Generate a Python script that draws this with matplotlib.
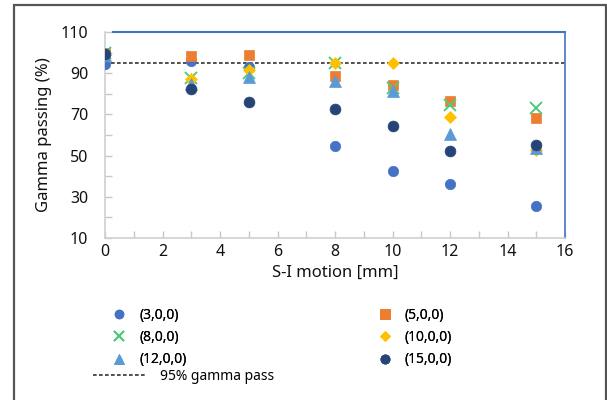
import matplotlib
matplotlib.use("Agg")
import matplotlib.pyplot as plt
from matplotlib.lines import Line2D
from matplotlib.patches import Rectangle

plt.rcParams['font.family'] = ['Noto Sans', 'DejaVu Sans']

motion = [0, 3, 5, 8, 10, 12, 15]
series_names = ['(3,0,0)', '(5,0,0)', '(8,0,0)', '(10,0,0)', '(12,0,0)', '(15,0,0)']
s_3 = [94.5, 96, 93, 54.5, 42.5, 36, 25.5]
s_5 = [100, 98.5, 98.8, 88.6, 84.3, 76.5, 68.2]
s_8 = [100, 87.5, 90, 95, 83, 74.6, 73.3]
s_10 = [99, 87, 91.5, 94.8, 94.8, 68.8, 52.5]
s_12 = [99, 85, 88.3, 86, 81.4, 60.3, 53.5]
s_15 = [99.5, 82.5, 75.8, 72.5, 64.2, 52, 55.2]
threshold = 95
x_range = [0, 16]

series = [s_3, s_5, s_8, s_10, s_12, s_15]
colors = ['#4472C4', '#ED7D31', '#4FCB7E', '#FFC000', '#5B9BD5', '#264478']
markers = ['o', 's', 'x', 'D', '^', 'o']
msizes = [7.5, 7.8, 8.5, 6.0, 8.0, 7.8]

fig = plt.figure(figsize=(6.07, 4.0), dpi=100)
ax = fig.add_axes([105/607, 1-238/400, 460/607, 206/400])

handles = {}
for name, vals, c, m, ms in zip(series_names, series, colors, markers, msizes):
    if m == 'x':
        h, = ax.plot(motion, vals, linestyle='none', marker=m, ms=ms, mec=c, mew=1.4, label=name, zorder=3)
    else:
        h, = ax.plot(motion, vals, linestyle='none', marker=m, ms=ms, mfc=c, mec=c, mew=0.5, label=name, zorder=3)
    handles[name] = h

dash, = ax.plot(x_range, [threshold, threshold], color='#333333', lw=1.2,
                linestyle=(0, (2.2, 1.4)), label='95% gamma pass', zorder=2)

ax.set_xlim(0, 16)
ax.set_ylim(10, 110)
ax.set_xticks(range(0, 17, 2))
ax.set_xticks(range(0, 17, 1), minor=True)
ax.set_yticks(range(10, 111, 20))
ax.set_yticks(range(10, 111, 10), minor=True)
ax.tick_params(axis='both', which='both', direction='in', color='#C8C8C8', width=1.0,
               labelsize=11.5, labelcolor='#111111')
ax.tick_params(axis='both', which='major', length=5)
ax.tick_params(axis='both', which='minor', length=5)
ax.tick_params(axis='y', pad=12)
ax.tick_params(axis='x', pad=4)

for s in ['left', 'bottom']:
    ax.spines[s].set_color('#D0D0D0')
    ax.spines[s].set_linewidth(1.2)
ax.spines['top'].set_visible(False)
ax.spines['right'].set_color('#4472C4')
ax.spines['right'].set_linewidth(1.2)
ax.axhline(110, xmin=8/460, xmax=1, color='#4472C4', lw=1.5, clip_on=False)

ax.set_xlabel('S-I motion [mm]', fontsize=12, labelpad=4, color='#111111')
ax.set_ylabel('Gamma passing (%)', fontsize=12, labelpad=6, color='#111111')

order = ['(3,0,0)', '(8,0,0)', '(12,0,0)', '(5,0,0)', '(10,0,0)', '(15,0,0)']
leg1 = fig.legend([handles[n] for n in order], order, ncol=2, loc='upper left',
                  bbox_to_anchor=(109/607, 1-308/400), frameon=False, fontsize=10,
                  handlelength=1.5, handletextpad=0.7, labelspacing=0.52,
                  columnspacing=13.5, borderaxespad=0, borderpad=0, markerscale=0.85)
leg2 = fig.legend([dash], ['95% gamma pass'], loc='upper left',
                  bbox_to_anchor=(93/607, 1-369/400), frameon=False, fontsize=10,
                  handlelength=3.9, handletextpad=0.95, borderaxespad=0, borderpad=0)
fig.add_artist(leg1)

fig.patches.append(Rectangle((14/607, -0.1), (605.5-14)/607, 1.1 - 5/400,
                             transform=fig.transFigure, fill=False,
                             edgecolor='#555555', lw=1.6))

fig.savefig('out.png', dpi=100)
